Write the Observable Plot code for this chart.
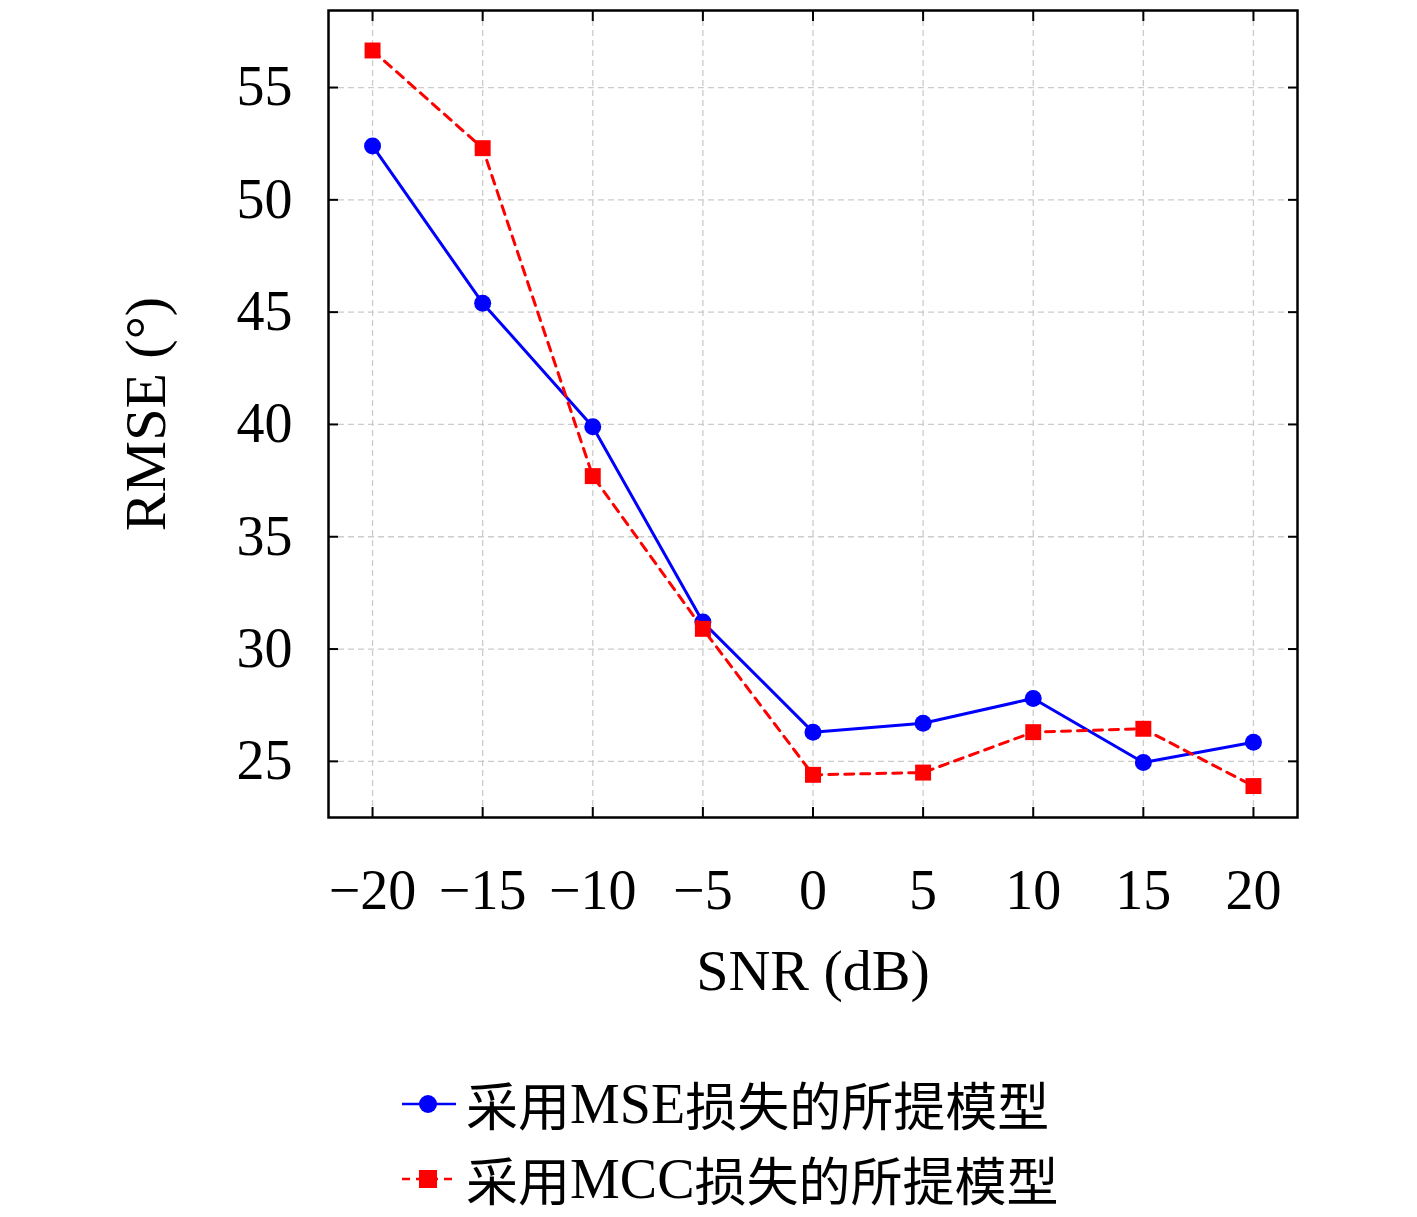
<!DOCTYPE html>
<html><head><meta charset="utf-8">
<script src="https://cdn.jsdelivr.net/npm/d3@7"></script>
<script src="https://cdn.jsdelivr.net/npm/@observablehq/plot@0.6"></script>
<style>
body{margin:0;background:#fff;font-family:"Liberation Serif","DejaVu Serif",serif;overflow:hidden}
#legend{position:relative;height:177px;}
.item{position:absolute;left:400px;font-size:52px;line-height:60px;display:flex;align-items:center;white-space:nowrap}
.item svg{margin-right:6px}
.zh{font-family:"Noto Sans CJK SC",sans-serif}
</style></head><body>
<div id="chart"></div>
<div id="legend"></div>
<script>
const snr=[-20,-15,-10,-5,0,5,10,15,20];
const mse=[52.4,45.4,39.9,31.2,26.3,26.7,27.8,24.95,25.85];
const mcc=[56.65,52.3,37.7,30.9,24.4,24.5,26.3,26.45,23.9];
const xTicks=[-20,-15,-10,-5,0,5,10,15,20];
const yTicks=[25,30,35,40,45,50,55];
const names=["采用MSE损失的所提模型","采用MCC损失的所提模型"];
const dMse=snr.map((x,i)=>({x,y:mse[i]}));
const dMcc=snr.map((x,i)=>({x,y:mcc[i]}));
const plot=Plot.plot({
  width:1417,height:1040,marginLeft:328,marginRight:120,marginTop:10,marginBottom:223,
  style:{fontFamily:"Liberation Serif, DejaVu Serif, serif",fontSize:"50px",color:"#000",background:"#fff"},
  x:{domain:[-22,22]},y:{domain:[22.5,58.43]},
  marks:[
    Plot.ruleX(xTicks,{stroke:"#ccc",strokeDasharray:"6,4",strokeWidth:1.3}),
    Plot.ruleY(yTicks,{stroke:"#ccc",strokeDasharray:"6,4",strokeWidth:1.3}),
    Plot.axisX({ticks:xTicks,tickSize:-10,tickPadding:62,tickFormat:d=>d<0?"−"+(-d):String(d),fontSize:56,strokeWidth:2,label:null}),
    Plot.axisX({anchor:"top",ticks:xTicks,tickSize:-10,tickFormat:()=>"",strokeWidth:2,label:null}),
    Plot.axisY({ticks:yTicks,tickSize:-10,tickPadding:46,fontSize:56,strokeWidth:2,label:null}),
    Plot.axisY({anchor:"right",ticks:yTicks,tickSize:-10,tickFormat:()=>"",strokeWidth:2,label:null}),
    Plot.frame({stroke:"#000",strokeWidth:2.5}),
    Plot.line(dMse,{x:"x",y:"y",stroke:"#0000ff",strokeWidth:3}),
    Plot.dot(dMse,{x:"x",y:"y",fill:"#0000ff",r:8.5}),
    Plot.line(dMcc,{x:"x",y:"y",stroke:"#ff0000",strokeWidth:3,strokeDasharray:"9,7"}),
    Plot.dot(dMcc,{x:"x",y:"y",fill:"#ff0000",symbol:"square",r:9}),
    Plot.text(["SNR (dB)"],{frameAnchor:"bottom",dy:172,fontSize:58}),
    Plot.text(["RMSE (°)"],{frameAnchor:"left",dx:-182,rotate:-90,textAnchor:"middle",fontSize:58})
  ]
});
document.getElementById("chart").appendChild(plot);
const lg=document.getElementById("legend");
[[names[0],"#0000ff","circle",false,34],[names[1],"#ff0000","square",true,109]].forEach(([n,c,s,dash,top])=>{
  const m=n.match(/^(采用)(M\w+)(.*)$/);
  const marker=s==="circle"?`<circle cx="28" cy="20" r="9" fill="${c}"/>`:`<rect x="19" y="11" width="18" height="18" fill="${c}"/>`;
  lg.insertAdjacentHTML("beforeend",`<div class="item" style="top:${top}px"><svg width="60" height="40"><line x1="2" x2="56" y1="20" y2="20" stroke="${c}" stroke-width="2.5" ${dash?'stroke-dasharray="8,6"':''}/>${marker}</svg><span class="zh">${m[1]}</span><span style="font-size:56px">${m[2]}</span><span class="zh">${m[3]}</span></div>`);
});
</script></body></html>
